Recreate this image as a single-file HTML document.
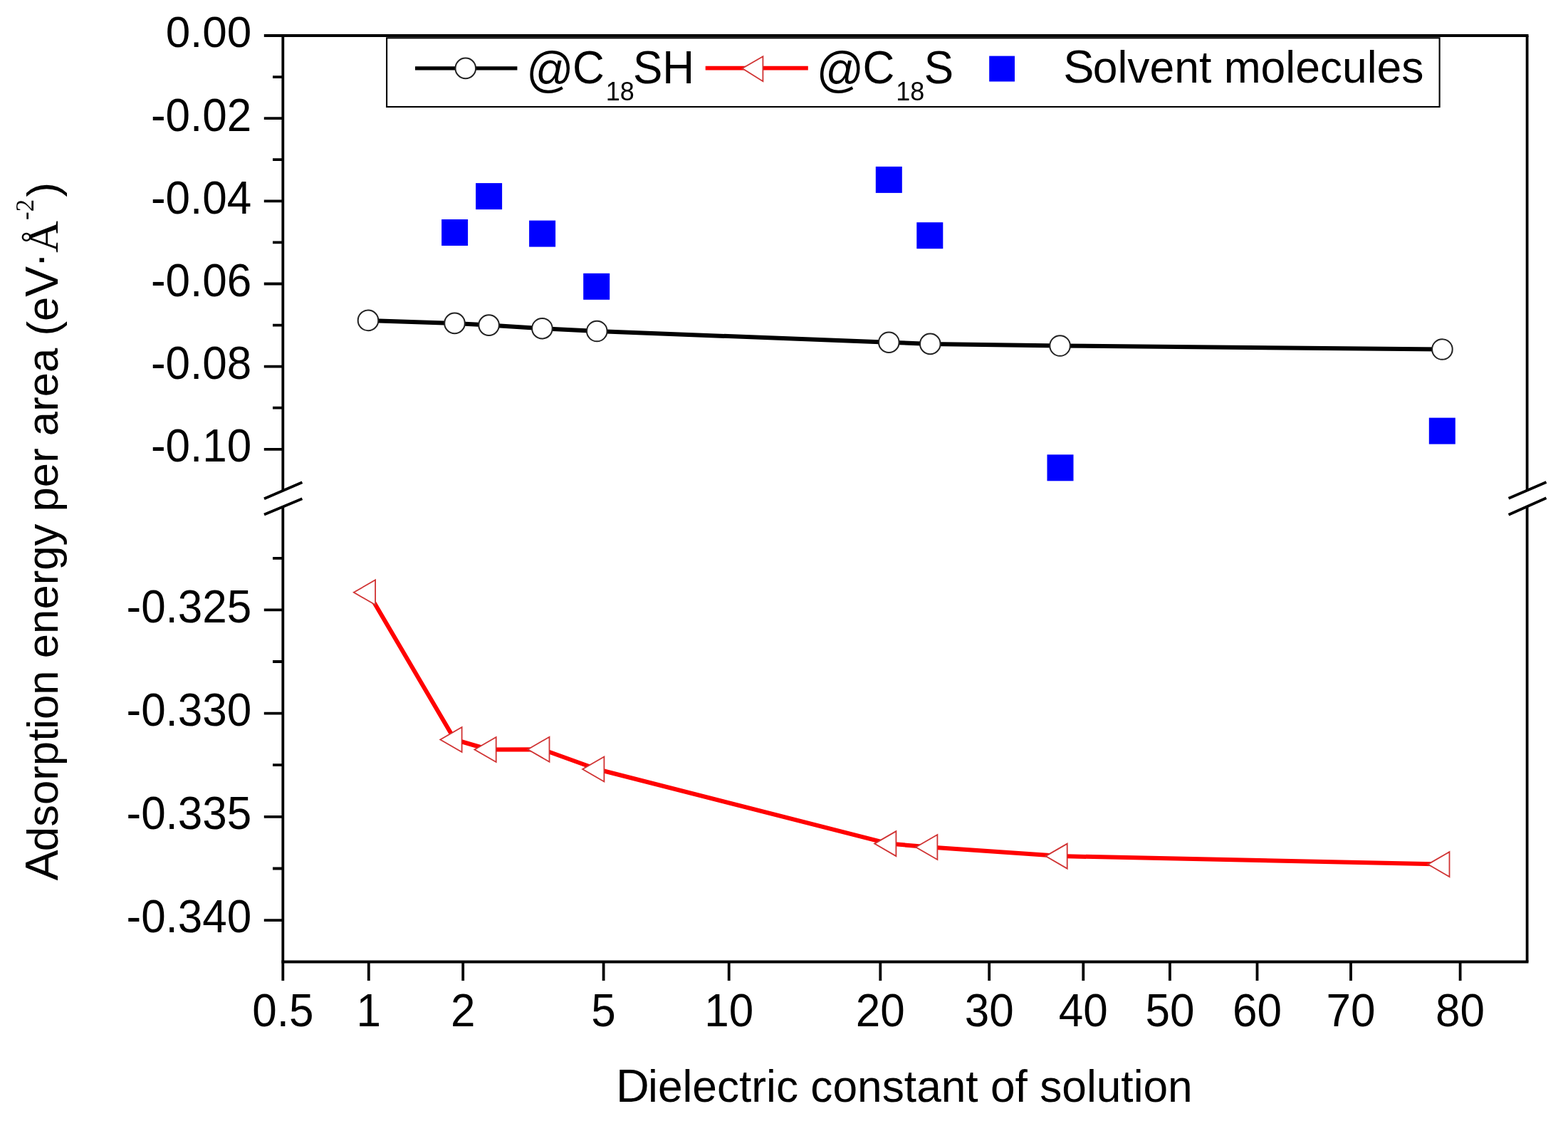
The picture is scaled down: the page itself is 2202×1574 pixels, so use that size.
<!DOCTYPE html><html><head><meta charset="utf-8"><title>Adsorption energy vs dielectric constant</title><style>html,body{margin:0;padding:0;background:#fff;overflow:hidden;}svg{display:block;}text{font-family:"Liberation Sans",Arial,sans-serif;fill:#000;font-kerning:none;}.sf{font-family:"Liberation Serif","Times New Roman",serif;}</style></head><body>
<svg width="2202" height="1574" viewBox="0 0 2202 1574">
<rect x="0" y="0" width="2202" height="1574" fill="#fff"/>
<g fill="none" stroke="#000" stroke-width="3.8" stroke-linecap="butt"><path d="M397.3 50.0 V689.0 M397.3 711.6 V1350.5" /><path d="M2144.6 50.0 V688.5 M2144.6 711.0 V1350.5" /><path d="M395.40000000000003 50.0 H2146.5 M395.40000000000003 1350.5 H2146.5" /><path d="M371 700.2 L424.4 677.3 M371 722.5 L424.4 700.2" /><path d="M2118.6 699.8 L2171.5 676.9 M2118.6 722.7 L2171.5 699.3" /><path d="M370.8 50.0 H397.3 M383.0 108.1 H397.3 M370.8 166.2 H397.3 M383.0 224.2 H397.3 M370.8 282.3 H397.3 M383.0 340.4 H397.3 M370.8 398.5 H397.3 M383.0 456.6 H397.3 M370.8 514.6 H397.3 M383.0 572.7 H397.3 M370.8 630.8 H397.3 M383.0 783.8 H397.3 M370.8 856.4 H397.3 M383.0 929.0 H397.3 M370.8 1001.6 H397.3 M383.0 1074.2 H397.3 M370.8 1146.9 H397.3 M383.0 1219.5 H397.3 M370.8 1292.1 H397.3 M397.3 1350.5 V1377 M517.8 1350.5 V1377 M650.2 1350.5 V1377 M847.6 1350.5 V1377 M1023.7 1350.5 V1377 M1236.3 1350.5 V1377 M1389.2 1350.5 V1377 M1521.3 1350.5 V1377 M1642.9 1350.5 V1377 M1765.5 1350.5 V1377 M1897.0 1350.5 V1377 M2050.6 1350.5 V1377" /></g>
<g><text x="353.3" y="66.40" font-size="62" text-anchor="end">0.00</text><text x="353.3" y="183.66" font-size="62" text-anchor="end" transform="matrix(1 0 0 1.04 0 -7.346)">-0.02</text><text x="353.3" y="299.82" font-size="62" text-anchor="end" transform="matrix(1 0 0 1.04 0 -11.993)">-0.04</text><text x="353.3" y="415.98" font-size="62" text-anchor="end" transform="matrix(1 0 0 1.04 0 -16.639)">-0.06</text><text x="353.3" y="532.14" font-size="62" text-anchor="end" transform="matrix(1 0 0 1.04 0 -21.286)">-0.08</text><text x="353.3" y="648.30" font-size="62" text-anchor="end" transform="matrix(1 0 0 1.04 0 -25.932)">-0.10</text><text x="353.3" y="873.71" font-size="62" text-anchor="end" transform="matrix(1 0 0 1.04 0 -34.948)">-0.325</text><text x="353.3" y="1018.93" font-size="62" text-anchor="end" transform="matrix(1 0 0 1.04 0 -40.757)">-0.330</text><text x="353.3" y="1164.15" font-size="62" text-anchor="end" transform="matrix(1 0 0 1.04 0 -46.566)">-0.335</text><text x="353.3" y="1309.37" font-size="62" text-anchor="end" transform="matrix(1 0 0 1.04 0 -52.375)">-0.340</text><text x="397.3" y="1441.50" font-size="62" text-anchor="middle" transform="matrix(1 0 0 1.04 0 -57.660)">0.5</text><text x="517.8" y="1441.50" font-size="62" text-anchor="middle" transform="matrix(1 0 0 1.04 0 -57.660)">1</text><text x="650.2" y="1441.50" font-size="62" text-anchor="middle" transform="matrix(1 0 0 1.04 0 -57.660)">2</text><text x="847.6" y="1441.50" font-size="62" text-anchor="middle" transform="matrix(1 0 0 1.04 0 -57.660)">5</text><text x="1023.7" y="1441.50" font-size="62" text-anchor="middle" transform="matrix(1 0 0 1.04 0 -57.660)">10</text><text x="1236.3" y="1441.50" font-size="62" text-anchor="middle" transform="matrix(1 0 0 1.04 0 -57.660)">20</text><text x="1389.2" y="1441.50" font-size="62" text-anchor="middle" transform="matrix(1 0 0 1.04 0 -57.660)">30</text><text x="1521.3" y="1441.50" font-size="62" text-anchor="middle" transform="matrix(1 0 0 1.04 0 -57.660)">40</text><text x="1642.9" y="1441.50" font-size="62" text-anchor="middle" transform="matrix(1 0 0 1.04 0 -57.660)">50</text><text x="1765.5" y="1441.50" font-size="62" text-anchor="middle" transform="matrix(1 0 0 1.04 0 -57.660)">60</text><text x="1897.0" y="1441.50" font-size="62" text-anchor="middle" transform="matrix(1 0 0 1.04 0 -57.660)">70</text><text x="2050.6" y="1441.50" font-size="62" text-anchor="middle" transform="matrix(1 0 0 1.04 0 -57.660)">80</text></g>
<text x="865.1" y="1547.40" font-size="62.25"><tspan font-size="64.74" letter-spacing="-1.80">D</tspan>ielectric constant of solution</text>
<g transform="rotate(-90)"><text x="-1236.3" y="80.60" font-size="61.7"><tspan font-size="64.17" letter-spacing="-1.65">A</tspan>dsorption energy per area (e<tspan font-size="64.17" letter-spacing="-1.65">V</tspan><tspan x="-375.5" y="75.3" font-size="62">·</tspan><tspan class="sf" x="-354.8" y="80.6" font-size="62">Å</tspan><tspan class="sf" x="-309" y="47" font-size="35">-2</tspan><tspan x="-276.5" y="80.6" font-size="62">)</tspan></text></g>
<polyline points="517.0,449.9 638.5,453.9 686.6,456.6 761.4,461.2 838.3,465.0 1248.3,480.7 1306.3,482.9 1488.6,485.5 2025.4,490.5" fill="none" stroke="#000" stroke-width="6.0" stroke-linejoin="round"/>
<polyline points="517.0,831.8 638.5,1038.5 686.6,1052.5 761.4,1052.2 838.3,1080.0 1248.3,1184.6 1306.3,1189.5 1488.6,1202.1 2025.4,1213.6" fill="none" stroke="#f00" stroke-width="6.0" stroke-linejoin="round"/>
<g fill="#fff" stroke="#222" stroke-width="2"><circle cx="517.0" cy="449.9" r="14.3"/><circle cx="638.5" cy="453.9" r="14.3"/><circle cx="686.6" cy="456.6" r="14.3"/><circle cx="761.4" cy="461.2" r="14.3"/><circle cx="838.3" cy="465.0" r="14.3"/><circle cx="1248.3" cy="480.7" r="14.3"/><circle cx="1306.3" cy="482.9" r="14.3"/><circle cx="1488.6" cy="485.5" r="14.3"/><circle cx="2025.4" cy="490.5" r="14.3"/></g>
<g fill="#fff" stroke="#d03232" stroke-width="1.8" stroke-linejoin="miter"><path d="M496.8 831.8 L527.1 814.3 L527.1 849.3 Z"/><path d="M618.3 1038.5 L648.6 1021.0 L648.6 1056.0 Z"/><path d="M666.4 1052.5 L696.7 1035.0 L696.7 1070.0 Z"/><path d="M741.2 1052.2 L771.5 1034.7 L771.5 1069.7 Z"/><path d="M818.1 1080.0 L848.4 1062.5 L848.4 1097.5 Z"/><path d="M1228.1 1184.6 L1258.4 1167.1 L1258.4 1202.1 Z"/><path d="M1286.1 1189.5 L1316.4 1172.0 L1316.4 1207.0 Z"/><path d="M1468.4 1202.1 L1498.7 1184.6 L1498.7 1219.6 Z"/><path d="M2005.2 1213.6 L2035.5 1196.1 L2035.5 1231.1 Z"/></g>
<g fill="#0000ff"><rect x="620.1" y="308.0" width="37.0" height="37.0"/><rect x="668.1" y="257.1" width="37.0" height="37.0"/><rect x="743.1" y="309.6" width="37.0" height="37.0"/><rect x="819.2" y="383.8" width="37.0" height="37.0"/><rect x="1229.8" y="233.9" width="37.0" height="37.0"/><rect x="1287.3" y="312.2" width="37.0" height="37.0"/><rect x="1470.5" y="638.3" width="37.0" height="37.0"/><rect x="2006.8" y="586.6" width="37.0" height="37.0"/></g>
<rect x="543.1" y="53.3" width="1478.5" height="96.7" fill="#fff" stroke="#000" stroke-width="2.1"/>
<path d="M583 95.9 H726.4" stroke="#000" stroke-width="5.4"/>
<circle cx="653.8" cy="95.9" r="14.3" fill="#fff" stroke="#222" stroke-width="2"/>
<path d="M990.7 95.6 H1134.8" stroke="#f00" stroke-width="5.6"/>
<path d="M1042.4 96 L1071.4 79.3 L1071.4 114.2 Z" fill="#fff" stroke="#d03232" stroke-width="1.8"/>
<rect x="1389.2" y="78.6" width="35.8" height="35.9" fill="#0000ff"/>
<text x="739.36" y="116.8" font-size="62" transform="matrix(1 0 0 1.04 0 -4.672)"><tspan x="739.36" y="121.1" font-size="65.4">@</tspan><tspan x="804.0" y="116.8" font-size="62">C</tspan><tspan x="850.7" y="140.4" font-size="36">18</tspan><tspan x="889" y="116.8" font-size="62">SH</tspan></text>
<text x="1146.76" y="116.8" font-size="62" transform="matrix(1 0 0 1.04 0 -4.672)"><tspan x="1146.76" y="121.1" font-size="65.4">@</tspan><tspan x="1211.5" y="116.8" font-size="62">C</tspan><tspan x="1258.2" y="140.4" font-size="36">18</tspan><tspan x="1297.8" y="116.8" font-size="62">S</tspan></text>
<text x="1493.2" y="116.30" font-size="62.4"><tspan font-size="64.90" letter-spacing="-1.66">S</tspan>olvent molecules</text>
</svg></body></html>
